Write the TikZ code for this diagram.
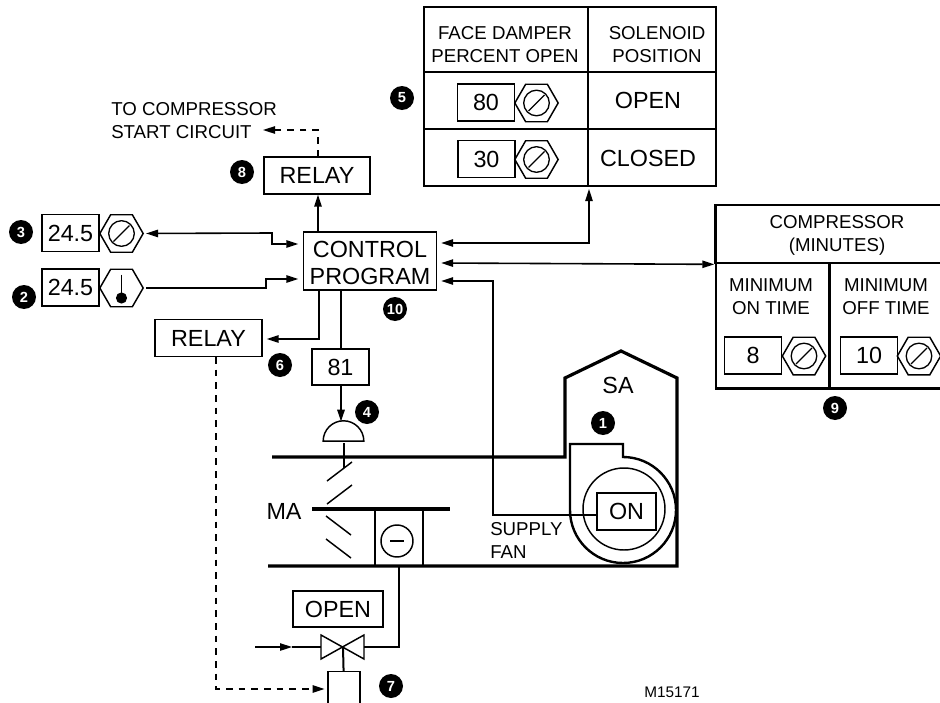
\documentclass[tikz,border=0pt]{standalone}
\usepackage{fontspec}
\setmainfont{Liberation Sans}
\usetikzlibrary{arrows.meta,positioning,shapes.geometric,calc}

\begin{document}
\begin{tikzpicture}[
  x=0.75pt, y=0.75pt,
  >={Stealth[length=9pt,width=5.5pt,inset=0pt]},
  box/.style={
    rectangle, draw=black, line width=1.1pt, fill=white, inner sep=0pt,
    font=\fontsize{17.5}{20}\selectfont, align=center},
  cell/.style={rectangle, draw=black, line width=2pt, inner sep=0pt},
  dial/.style={
    regular polygon, regular polygon sides=6, draw=black, line width=1.1pt,
    fill=white, minimum size=32.5pt, inner sep=0pt,
    path picture={
      \draw[line width=1pt] (path picture bounding box.center) circle (9.6pt);
      \draw[line width=1pt] ($(path picture bounding box.center)+(-6pt,-6pt)$) -- ++(12pt,12pt);
    }},
  sensor/.style={
    regular polygon, regular polygon sides=6, draw=black, line width=1.1pt,
    fill=white, minimum size=32.5pt, inner sep=0pt,
    path picture={
      \draw[line width=1.3pt] ($(path picture bounding box.center)+(0,10pt)$) -- ++(0,-17pt);
      \fill[black] ($(path picture bounding box.center)+(0,-7.5pt)$) circle (4.2pt);
    }},
  badge/.style={
    circle, fill=black, text=white, inner sep=0pt, minimum size=18pt,
    font=\fontsize{11}{12}\selectfont\bfseries},
  lbl/.style={inner sep=0pt, font=\fontsize{14}{17.2}\selectfont, align=center},
  biglbl/.style={inner sep=0pt, font=\fontsize{17.5}{20}\selectfont, align=center},
  edge/.style={line width=1.2pt, shorten >=3.5pt},
  dedge/.style={line width=1.2pt, dash pattern=on 5pt off 4.5pt},
  duct/.style={line width=2.4pt, line join=miter},
]
\useasboundingbox (0,0) rectangle (940,-703);

% ---- Control program and relays ----
\node[box, minimum width=100pt, minimum height=43.5pt] (control) at (370,-261) {\rule{0pt}{15.5pt}CONTROL\\[0.3pt]PROGRAM};
\node[box, minimum width=79.5pt, minimum height=27.5pt] (relaytop) at (317,-175.5) {RELAY};
\node[box, minimum width=80pt, minimum height=27.5pt] (relayleft) at (208.5,-338) {RELAY};
\node[box, minimum width=42.5pt, minimum height=27pt] (hum) at (340.5,-367) {81};
\coordinate (ctlw3) at (303,-244);
\coordinate (ctlw2) at (303,-279);
\coordinate (ctle5) at (436.5,-243);
\coordinate (ctle9) at (436.5,-263);
\coordinate (ctle1) at (436.5,-281);

% ---- Setpoints on the left ----
\node[box, minimum width=43pt, minimum height=27.5pt] (spval) at (70.5,-233) {24.5};
\node[dial] (spdial) at (121.5,-233.5) {};
\node[box, minimum width=43pt, minimum height=27.5pt] (tempval) at (70.5,-287.5) {24.5};
\node[sensor] (tempdial) at (121.5,-288) {};

% ---- Face damper table ----
\node[cell, minimum width=123pt, minimum height=48.75pt] (dmphdr) at (506,-39.5) {};
\node[cell, minimum width=96pt, minimum height=48.75pt] (solhdr) at (652,-39.5) {};
\node[cell, minimum width=123pt, minimum height=42.75pt] (dmpa) at (506,-100.5) {};
\node[cell, minimum width=96pt, minimum height=42.75pt] (sola) at (652,-100.5) {};
\node[cell, minimum width=123pt, minimum height=42.75pt] (dmpb) at (506,-157.5) {};
\node[cell, minimum width=96pt, minimum height=42.75pt] (solb) at (652,-157.5) {};
\node[lbl] (dmptxt) at (505,-44.5) {FACE DAMPER\\PERCENT OPEN};
\node[lbl] (soltxt) at (657,-44.5) {SOLENOID\\POSITION};
\node[biglbl] (soltxta) at (648,-100) {OPEN};
\node[biglbl] (soltxtb) at (648,-158) {CLOSED};
\node[box, minimum width=42.5pt, minimum height=27.5pt] (dmpvala) at (486,-102.5) {80};
\node[dial] (dmpdiala) at (536.5,-103) {};
\node[box, minimum width=42.5pt, minimum height=27.5pt] (dmpvalb) at (486.5,-159) {30};
\node[dial] (dmpdialb) at (536.5,-159.5) {};

% ---- Compressor table ----
\node[cell, minimum width=176pt, minimum height=43.5pt] (cmphdr) at (833,-234) {};
\node[cell, minimum width=85pt, minimum height=94pt] (cmpon) at (772.5,-325.5) {};
\node[cell, minimum width=91pt, minimum height=94pt] (cmpoff) at (889.5,-325.5) {};
\node[lbl] (cmptxt) at (837,-235) {COMPRESSOR\\(MINUTES)};
\node[lbl] (ontxt) at (771,-297) {MINIMUM\\ON TIME};
\node[lbl] (offtxt) at (886,-297) {MINIMUM\\OFF TIME};
\node[box, minimum width=42.5pt, minimum height=27.5pt] (onval) at (753,-355.5) {8};
\node[dial] (ondial) at (804,-356) {};
\node[box, minimum width=42.5pt, minimum height=27.5pt] (offval) at (869,-355.5) {10};
\node[dial] (offdial) at (919,-356) {};

% ---- Duct ----
\draw[duct] (272,-457) -- (565,-457) -- (565,-378) -- (621,-351) -- (677,-378) -- (677,-566) -- (268,-566);
\draw[duct] (312,-509) -- (450,-509);
\draw[line width=1.8pt] (375,-509) -- (375,-566);
\draw[line width=1.8pt] (423,-509) -- (423,-566);
\foreach \y in {481,504} \draw[line width=1.1pt] (327,-\y) -- ++(25,19);
\foreach \y in {516,539} \draw[line width=1.1pt] (326,-\y) -- ++(25,-19);
\node[circle, draw=black, line width=1.1pt, minimum size=24pt, inner sep=0pt] (coil) at (397,-541) {};
\draw[line width=2pt] ($(coil.center)+(-5.2pt,0)$) -- ($(coil.center)+(5.2pt,0)$);

% ---- Supply fan ----
\draw[line width=1.8pt] (570,-510) -- (570,-444) -- (623,-444) -- (623,-457)
  arc[start angle=90, end angle=-180, radius=53];
\node[circle, draw=black, line width=1.1pt, minimum size=61.5pt, inner sep=0pt] (rotor) at (624,-509) {};
\node[box, minimum width=44pt, minimum height=27.5pt] (fanon) at (626.5,-511.5) {ON};
\coordinate (fanin) at (597,-515);

% ---- Damper actuator ----
\node[semicircle, draw=black, line width=1.1pt, minimum width=30.5pt, inner sep=0pt] (actuator) at (343.5,-433) {};
\coordinate (shaft) at (344,-443);
\draw[line width=1.5pt] (shaft) -- (344,-468);

% ---- Valve ----
\node[box, minimum width=67.5pt, minimum height=27pt] (valvepos) at (338,-609) {OPEN};
\node[box, minimum width=24pt, minimum height=26pt] (solenoid) at (344,-689) {};
\coordinate (valve) at (343,-647);
\draw[line width=1.1pt] (321,-635) -- (364,-659) -- (364,-635) -- (321,-659) -- cycle;
\draw[line width=1.5pt] (valve) -- (solenoid);
\coordinate (pipein) at (255,-647);
\draw[edge, ->, shorten >=0pt] (pipein) -- (292,-647);
\draw[line width=1.2pt] (292,-647) -- (321,-647);
\draw[line width=1.5pt] (364,-647) -- (399,-647) -- (399,-566);

% ---- Connectors ----
\draw[line width=1.2pt, <->, shorten >=3.5pt, shorten <=1.5pt] (spdial.east) -- (272,-233) -- (272,-244) -- (ctlw3);
\draw[edge, ->] (tempdial.east) ++(2,0) -- (266,-288) -- (266,-279) -- (ctlw2);
\draw[edge, ->, shorten >=0pt] (318,-232) -- (relaytop.south -| 318,0);
\draw[dedge, ->] (relaytop.north -| 318,0) -- (318,-130) -- (263,-130);
\draw[edge, ->, shorten >=3pt] (319,-290) -- (319,-339) -- (relayleft.east |- 0,-339);
\draw[line width=1.4pt] (341,-290) -- (341,-349);
\draw[edge, ->, shorten >=1pt, line width=1.4pt] (341,-385) -- (341,-423);
\draw[dedge, ->, shorten >=2pt] (relayleft.south -| 216,0) -- (216,-689) -- (solenoid.west |- 0,-689);
\draw[<->, line width=1.2pt, shorten <=3.5pt] (ctle5) -- (589,-243) -- (589,-189);
\draw[<->, line width=1.2pt, shorten <=3.5pt] (ctle9) -- (cmphdr.south west);
\draw[edge, ->] (fanin) -- (493,-515) -- (493,-281) -- (ctle1);

% ---- Plain labels ----
\node[lbl, align=left, anchor=west] (startlbl) at (111,-120.5) {TO COMPRESSOR\\START CIRCUIT};
\node[lbl, align=left, anchor=west] (fanlbl) at (490,-540.5) {SUPPLY\\FAN};
\node[biglbl] (salbl) at (618,-385) {SA};
\node[biglbl] (malbl) at (284,-511) {MA};
\node[inner sep=0pt, font=\fontsize{11.5}{13}\selectfont] (drawno) at (672,-692) {M15171};

% ---- Numbered badges ----
\node[badge] (b1) at (603,-423) {1};
\node[badge] (b2) at (24,-297) {2};
\node[badge] (b3) at (21,-232) {3};
\node[badge] (b4) at (367,-412) {4};
\node[badge] (b5) at (402,-98) {5};
\node[badge] (b6) at (280,-365) {6};
\node[badge] (b7) at (391,-686) {7};
\node[badge] (b8) at (242,-172) {8};
\node[badge] (b9) at (835,-408) {9};
\node[badge] (b10) at (395,-309) {10};

\end{tikzpicture}
\end{document}
